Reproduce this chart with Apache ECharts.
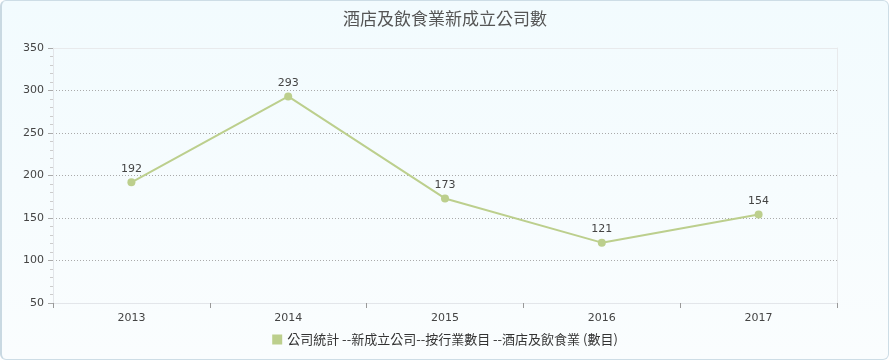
<!DOCTYPE html>
<html><head><meta charset="utf-8">
<script src="https://cdn.jsdelivr.net/npm/echarts@6/dist/echarts.min.js"></script>
<style>html,body{margin:0;padding:0;background:#fff;}#wrap{position:absolute;left:0;top:0;width:886px;height:358px;border:1px solid #cddde6;border-left:2px solid #c9d9e2;border-radius:6px;background:linear-gradient(#f2fbfe,#fafdfe);}#c{width:890px;height:362px;position:absolute;left:0;top:0;}</style>
</head><body><div id="wrap"></div><div id="c"></div>
<script>
const categories = ['2013','2014','2015','2016','2017'];
const values = [192, 293, 173, 121, 154];
const seriesName = '公司統計 --新成立公司--按行業數目 --酒店及飲食業 (數目)';
const titleText = '酒店及飲食業新成立公司數';
const chart = echarts.init(document.getElementById('c'));
const font = '"DejaVu Sans", sans-serif';
const cjk = '"Noto Sans CJK TC", sans-serif';
chart.setOption({
  animation: false,
  title: {text: titleText, left: 'center', top: 5, textStyle: {fontSize: 17, fontWeight: 'normal', color: '#555', fontFamily: cjk}},
  grid: {left: 53, right: 53, top: 48, bottom: 59},
  xAxis: [{type: 'category', data: categories, boundaryGap: true,
    axisLine: {lineStyle: {color: '#e3e6ea'}},
    axisTick: {show: true, length: 5, lineStyle: {color: '#999'}},
    axisLabel: {color: '#444', fontSize: 11, margin: 10, fontFamily: font},
    splitLine: {show: false}},
    {type: 'category', data: categories, position: 'top', axisLine: {lineStyle: {color: '#e8eaec'}}, axisTick: {show: false}, axisLabel: {show: false}}],
  yAxis: [{type: 'value', min: 50, max: 350, interval: 50,
    axisLine: {show: true, lineStyle: {color: '#e3e6ea'}},
    axisTick: {show: true, length: 5, lineStyle: {color: '#aaa'}},
    minorTick: {show: true, splitNumber: 5, length: 3, lineStyle: {color: '#ccc'}},
    axisLabel: {color: '#444', fontSize: 11, margin: 9, fontFamily: font},
    splitLine: {show: true, showMaxLine: false, showMinLine: false, lineStyle: {color: '#aaa', type: [1, 2]}}},
    {type: 'value', min: 50, max: 350, interval: 50, position: 'right',
    axisLine: {show: true, lineStyle: {color: '#e8eaec'}}, axisTick: {show: false}, axisLabel: {show: false}, splitLine: {show: false}}],
  legend: {bottom: 11, left: 'center', itemWidth: 10, itemHeight: 10, icon: 'rect', itemGap: 10,
    textStyle: {color: '#333', fontSize: 13, fontFamily: cjk}},
  series: [{name: seriesName, type: 'line', data: values, color: '#bccf8d',
    symbol: 'circle', symbolSize: 8, lineStyle: {width: 2},
    label: {show: true, position: 'top', color: '#444', fontSize: 11, fontFamily: font, distance: 4}}]
});
</script></body></html>
